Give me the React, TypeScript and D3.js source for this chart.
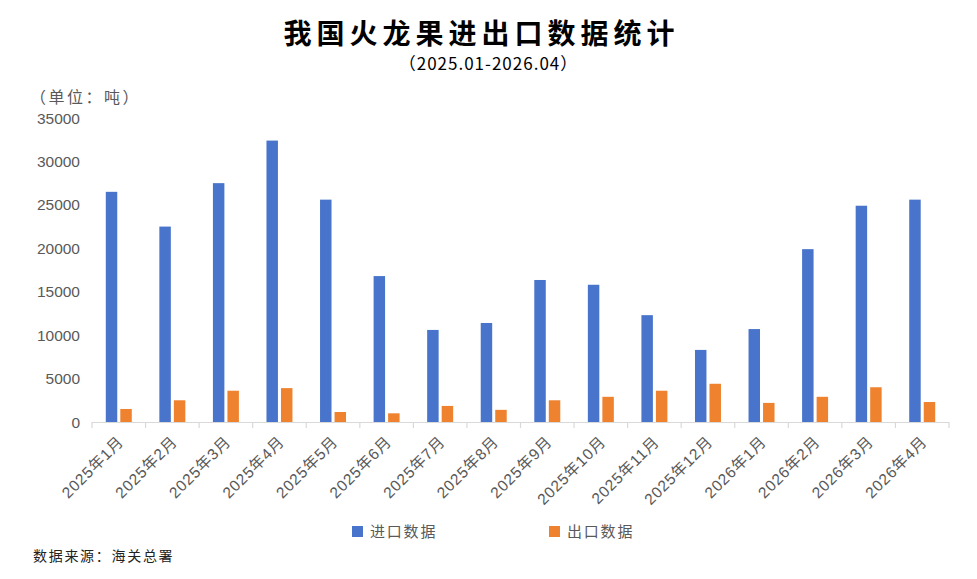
import { useEffect, useRef } from "react";
import * as d3 from "d3";

const months = [
  "2025年1月", "2025年2月", "2025年3月", "2025年4月", "2025年5月", "2025年6月",
  "2025年7月", "2025年8月", "2025年9月", "2025年10月", "2025年11月", "2025年12月",
  "2026年1月", "2026年2月", "2026年3月", "2026年4月",
];
const importValues = [
  26500, 22500, 27500, 32400, 25600, 16800, 10600, 11400,
  16350, 15800, 12300, 8300, 10700, 19900, 24900, 25600,
];
const exportValues = [
  1500, 2500, 3600, 3900, 1150, 1000, 1850, 1400,
  2500, 2900, 3600, 4400, 2200, 2900, 4000, 2300,
];
const seriesNames = ["进口数据", "出口数据"];
const seriesColors = ["#4874CB", "#EE822F"];
const yTicks = [0, 5000, 10000, 15000, 20000, 25000, 30000, 35000];

const W = 977;
const H = 579;
const cjk = "'Noto Sans CJK SC', sans-serif";
const latin = "'Liberation Sans', 'Noto Sans CJK SC', sans-serif";

export default function App() {
  const svgRef = useRef<SVGSVGElement>(null);

  useEffect(() => {
    if (!svgRef.current) return;
    const svg = d3.select(svgRef.current);
    svg.selectAll("*").remove();

    const left = 92, right = 949, top = 118, bottom = 422;

    const x0 = d3.scaleBand().domain(months).range([left, right]).padding(0);
    const x1 = d3
      .scaleBand()
      .domain(seriesNames)
      .range([0, x0.bandwidth()])
      .paddingInner(0.21)
      .paddingOuter(0.95);
    const y = d3.scaleLinear().domain([0, 35000]).range([bottom, top]);

    // title
    svg.append("text")
      .attr("x", W / 2 - 7).attr("y", 44)
      .attr("text-anchor", "middle")
      .attr("font-family", cjk).attr("font-weight", 700)
      .attr("font-size", 28).attr("letter-spacing", 5)
      .attr("fill", "#000")
      .text("我国火龙果进出口数据统计");

    svg.append("text")
      .attr("x", W / 2).attr("y", 70)
      .attr("text-anchor", "middle")
      .attr("font-family", cjk).attr("font-size", 17)
      .attr("letter-spacing", 1)
      .attr("fill", "#000")
      .text("（2025.01-2026.04）");

    svg.append("text")
      .attr("x", 30).attr("y", 103)
      .attr("font-family", cjk).attr("font-size", 16)
      .attr("letter-spacing", 2.5)
      .attr("fill", "#595959")
      .text("（单位：吨）");

    // y tick labels
    svg.append("g")
      .selectAll("text")
      .data(yTicks)
      .enter()
      .append("text")
      .attr("x", 80)
      .attr("y", (d) => y(d))
      .attr("dy", "0.36em")
      .attr("text-anchor", "end")
      .attr("font-family", latin).attr("font-size", 15.5)
      .attr("fill", "#595959")
      .text((d) => String(d));

    // bars
    const rows = months.map((m, i) => ({ m, vals: [importValues[i], exportValues[i]] }));
    const groups = svg.append("g")
      .selectAll("g")
      .data(rows)
      .enter()
      .append("g")
      .attr("transform", (d) => `translate(${x0(d.m)},0)`);
    groups.selectAll("rect")
      .data((d) => d.vals.map((v, k) => ({ v, k })))
      .enter()
      .append("rect")
      .attr("x", (d) => x1(seriesNames[d.k]) as number)
      .attr("width", x1.bandwidth())
      .attr("y", (d) => y(d.v))
      .attr("height", (d) => bottom - y(d.v))
      .attr("fill", (d) => seriesColors[d.k]);

    // x axis line and ticks
    const axis = svg.append("g").attr("stroke", "#D9D9D9").attr("stroke-width", 1.2);
    axis.append("line")
      .attr("x1", left).attr("x2", right)
      .attr("y1", bottom + 0.5).attr("y2", bottom + 0.5);
    const edges = months.map((m) => x0(m) as number).concat([right]);
    axis.selectAll("line.tick")
      .data(edges)
      .enter()
      .append("line")
      .attr("class", "tick")
      .attr("x1", (d) => d).attr("x2", (d) => d)
      .attr("y1", bottom).attr("y2", bottom + 6);

    // x labels
    svg.append("g")
      .selectAll("text")
      .data(months)
      .enter()
      .append("text")
      .attr("transform", (d) => {
        const cx = (x0(d) as number) + x0.bandwidth() / 2 + 2;
        return `translate(${cx},${bottom + 17}) rotate(-45)`;
      })
      .attr("text-anchor", "end")
      .attr("dy", "0.35em")
      .attr("font-family", latin).attr("font-size", 15.5)
      .attr("letter-spacing", 0.8)
      .attr("fill", "#595959")
      .text((d) => d);

    // legend
    const legendX = [352, 549];
    const lg = svg.append("g")
      .selectAll("g")
      .data(seriesNames)
      .enter()
      .append("g")
      .attr("transform", (_d, i) => `translate(${legendX[i]},526)`);
    lg.append("rect")
      .attr("width", 11).attr("height", 11)
      .attr("fill", (_d, i) => seriesColors[i]);
    lg.append("text")
      .attr("x", 18).attr("y", 5.5).attr("dy", "0.36em")
      .attr("font-family", cjk).attr("font-size", 15)
      .attr("letter-spacing", 1.8)
      .attr("fill", "#595959")
      .text((d) => d);

    // source
    svg.append("text")
      .attr("x", 33).attr("y", 556).attr("dy", "0.36em")
      .attr("font-family", cjk).attr("font-size", 14)
      .attr("letter-spacing", 1.7)
      .attr("fill", "#222")
      .text("数据来源：海关总署");
  }, []);

  return (
    <svg
      ref={svgRef}
      width={W}
      height={H}
      style={{ position: "absolute", left: 0, top: 0, background: "#fff" }}
    />
  );
}
